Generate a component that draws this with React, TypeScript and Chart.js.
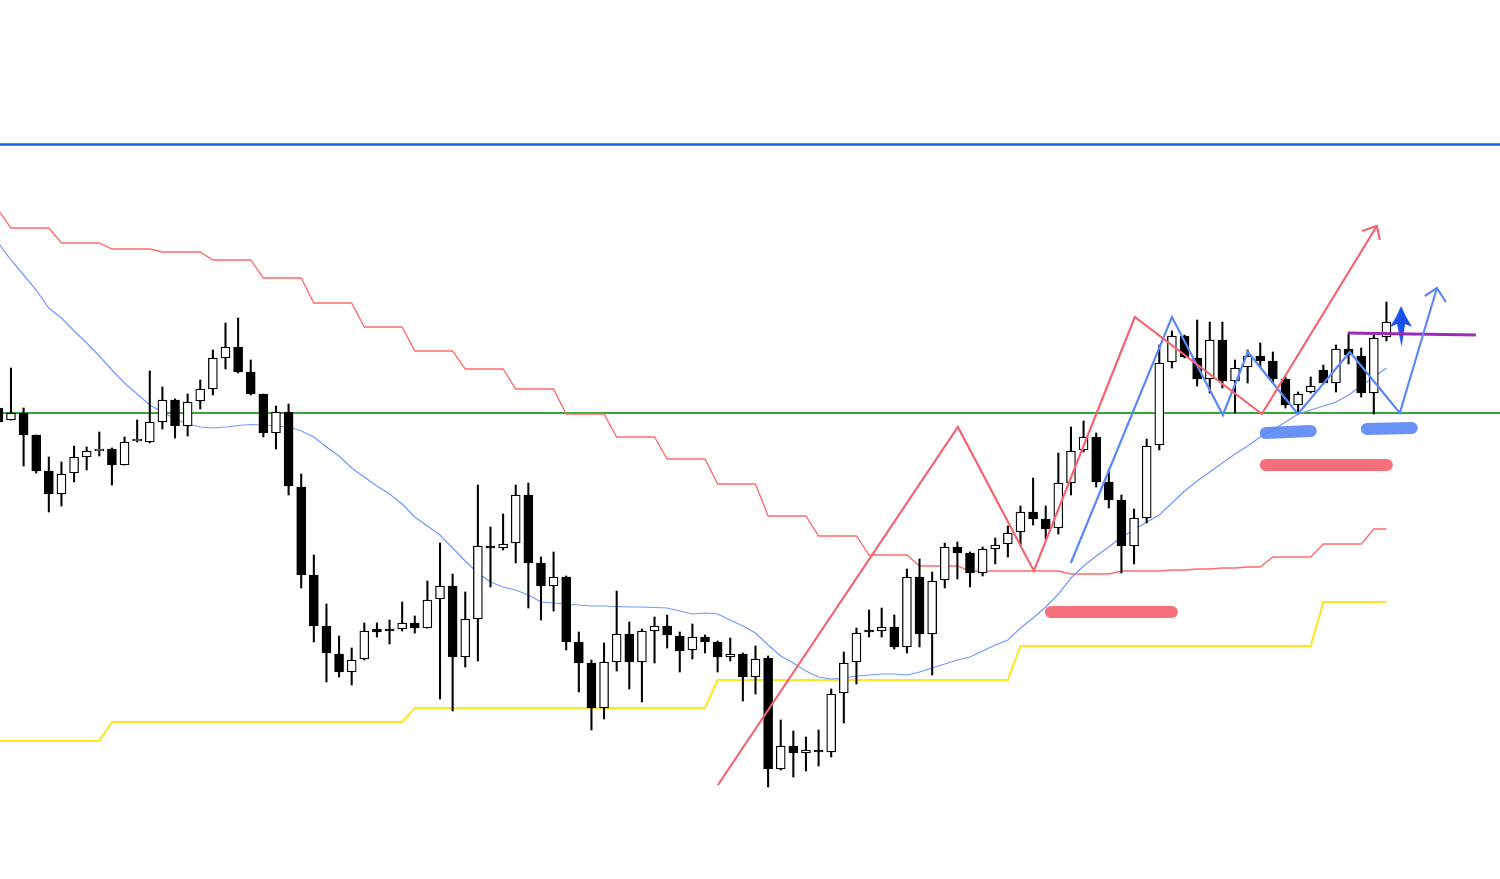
import React, { useEffect, useRef } from "react";
import { Chart, registerables } from "chart.js";

Chart.register(...registerables);

// ---- candle data (price units) ----
const openP = [
  492, 480, 487, 465, 429, 406, 427, 443, 449, 451,
  435, 459, 458, 478, 500, 474, 499, 511, 542, 553,
  528, 506, 467, 488, 413, 325, 274, 246, 228, 241,
  271, 271, 271, 277, 272, 301, 314, 243, 281, 354,
  352, 357, 405, 337, 314, 323, 258, 237, 192, 238,
  266, 238, 269, 274, 264, 250, 263, 258, 243, 246,
  223, 242, 131, 154, 147, 150, 148, 207, 238, 270,
  269, 273, 253, 323, 266, 320, 353, 347, 327, 351,
  356, 368, 388, 381, 372, 417, 450, 463, 418, 400,
  354, 382, 455, 538, 564, 542, 521, 560, 519, 533,
  544, 539, 521, 495, 508, 530, 517, 551, 544, 507,
  563,
];
const closeP = [
  478, 487, 465, 429, 406, 426, 443, 449, 451, 435,
  458, 461, 478, 500, 474, 498, 511, 542, 553, 528,
  506, 467, 488, 414, 325, 274, 247, 228, 240, 269,
  268, 269, 277, 272, 300, 314, 243, 281, 354, 352,
  356, 405, 337, 314, 323, 258, 237, 192, 238, 266,
  238, 269, 274, 265, 249, 263, 258, 243, 246, 223,
  241, 131, 154, 147, 150, 148, 206, 237, 267, 268,
  273, 253, 323, 266, 319, 353, 347, 327, 351, 355,
  367, 388, 381, 371, 417, 449, 463, 418, 400, 354,
  382, 454, 537, 564, 543, 521, 560, 519, 532, 544,
  539, 521, 495, 506, 514, 517, 551, 545, 507, 562,
  578,
];
const highP = [
  495, 532, 492, 465, 443, 438, 454, 453, 468, 452,
  463, 480, 529, 513, 501, 506, 520, 550, 577, 582,
  540, 506, 494, 496, 426, 345, 296, 264, 252, 277,
  277, 280, 298, 284, 319, 357, 326, 308, 415, 373,
  386, 415, 417, 343, 348, 324, 268, 240, 257, 309,
  278, 271, 283, 285, 268, 276, 265, 259, 262, 247,
  254, 244, 180, 169, 163, 170, 211, 248, 272, 290,
  292, 285, 331, 341, 328, 357, 358, 348, 353, 362,
  374, 394, 422, 394, 447, 473, 479, 467, 431, 405,
  391, 461, 555, 569, 565, 580, 578, 578, 540, 550,
  557, 548, 523, 508, 523, 535, 555, 566, 552, 565,
  598,
];
const lowP = [
  476, 480, 434, 427, 388, 394, 418, 430, 444, 415,
  435, 458, 457, 471, 462, 464, 491, 505, 531, 527,
  505, 463, 451, 405, 312, 258, 218, 223, 215, 240,
  263, 256, 269, 267, 272, 201, 189, 233, 239, 313,
  350, 337, 292, 280, 289, 250, 208, 170, 181, 229,
  211, 198, 237, 252, 228, 241, 247, 228, 239, 199,
  206, 113, 130, 123, 129, 134, 143, 177, 216, 263,
  263, 251, 247, 253, 225, 312, 321, 313, 324, 336,
  343, 355, 375, 361, 366, 405, 448, 413, 392, 327,
  336, 377, 450, 532, 542, 514, 507, 512, 487, 517,
  533, 517, 492, 487, 507, 516, 508, 536, 503, 486,
  559,
];

// ---- indicator lines, one value per candle ----
const baseLine = [
  690, 672, 672, 672, 672, 657, 657, 657, 657, 651,
  651, 651, 651, 648, 648, 648, 648, 640, 640, 640,
  640, 622, 622, 622, 622, 597, 597, 597, 597, 573,
  573, 573, 573, 549, 549, 549, 549, 531, 531, 531,
  531, 511, 511, 511, 511, 486, 486, 486, 486, 463,
  463, 463, 463, 441, 441, 441, 441, 416, 416, 416,
  416, 384, 384, 384, 384, 364, 364, 364, 364, 345,
  345, 345, 345, 334, 334, 334, 334, 329, 329, 329,
  329, 329, 329, 329, 329, 326, 326, 326, 326, 329,
  329, 329, 329, 330, 330, 331, 331, 332, 332, 333,
  333, 343, 343, 343, 343, 356, 356, 356, 356, 371,
  371,
];
const lowerBand = [
  159, 159, 159, 159, 159, 159, 159, 159, 159, 178,
  178, 178, 178, 178, 178, 178, 178, 178, 178, 178,
  178, 178, 178, 178, 178, 178, 178, 178, 178, 178,
  178, 178, 178, 192, 192, 192, 192, 192, 192, 192,
  192, 192, 192, 192, 192, 192, 192, 192, 192, 192,
  192, 192, 192, 192, 192, 192, 192, 220, 220, 220,
  220, 220, 220, 220, 220, 220, 220, 220, 220, 220,
  220, 220, 220, 220, 220, 220, 220, 220, 220, 220,
  220, 254, 254, 254, 254, 254, 254, 254, 254, 254,
  254, 254, 254, 254, 254, 254, 254, 254, 254, 254,
  254, 254, 254, 254, 254, 298, 298, 298, 298, 298,
  298,
];
const movingAvg = [
  657, 640, 625, 610, 592, 582, 569, 557, 544, 530,
  517, 506, 495, 488, 481, 476, 473, 472, 473, 474.5,
  475.5, 475, 474, 473, 469, 463, 453, 444, 432, 423,
  414, 406, 396, 383, 374, 365, 352, 339, 327, 318,
  313, 310, 305, 298, 297, 296, 295, 294, 294, 293.5,
  293, 293, 292.5, 292, 289, 286, 287, 286, 280, 274,
  267, 255, 244, 237, 229, 223, 221, 222, 224, 225,
  226, 226, 225, 228, 232, 236, 240, 243, 249, 255,
  260, 272, 282, 293, 306, 322, 334, 344, 353, 363,
  370, 378, 385, 397, 409, 419, 428, 437, 446, 454,
  463, 470, 478, 486, 490, 494, 498, 505, 514, 523,
  532,
];

// ---- horizontal levels ----
const upperLevel = 755.5;
const supportLevel = 487;

// ---- drawn annotations (x = candle index, y = price) ----
const redWaveX = [57.02, 76.04, 82.06, 90.06, 100.13, 109.24];
const redWaveY = [115, 473, 329, 583, 486, 674];
const redHeadX = [108.05, 109.24, 109.48];
const redHeadY = [669, 674, 660];
const blueWaveX = [84.99, 93.0, 97.04, 99.02, 102.98, 107.1, 111.06, 114.0];
const blueWaveY = [337, 583, 485, 548, 486, 548, 487, 612];
const blueHeadX = [113.04, 114.0, 114.71];
const blueHeadY = [604, 612, 598];
const purpleX = [106.94, 117.09];
const purpleY = [567, 565];
const blueZone1X = [100.44, 104.0];
const blueZone1Y = [467, 469];
const blueZone2X = [108.45, 112.01];
const blueZone2Y = [471, 472];
const redZone1X = [100.44, 110.03];
const redZone1Y = [435, 435];
const redZone2X = [83.41, 93.0];
const redZone2Y = [288, 288];
const upArrowX = [111.2];
const upArrowY = [573];

const X_MIN = 0.13;
const X_MAX = 119.0;
const Y_MIN = 21;
const Y_MAX = 900;

const pts = (xs: number[], ys: number[]) => xs.map((x, i) => ({ x, y: ys[i] }));

function makeArrowImage(): HTMLCanvasElement {
  const c = document.createElement("canvas");
  c.width = 23;
  c.height = 42;
  const g = c.getContext("2d")!;
  g.fillStyle = "#1a50ec";
  g.beginPath();
  g.moveTo(11, 0);
  g.quadraticCurveTo(16, 12, 22, 21);
  g.lineTo(15, 18);
  g.lineTo(11.5, 41);
  g.lineTo(7, 18);
  g.lineTo(0, 21);
  g.quadraticCurveTo(6, 12, 11, 0);
  g.closePath();
  g.fill();
  return c;
}

export default function App() {
  const ref = useRef<HTMLCanvasElement | null>(null);

  useEffect(() => {
    document.body.style.margin = "0";
    const canvas = ref.current;
    if (!canvas) return;

    const idx = openP.map((_, i) => i);
    const line = (
      data: { x: number; y: number }[],
      color: string,
      width: number,
      order: number,
      cap: CanvasLineCap = "butt"
    ) => ({
      type: "line" as const,
      data,
      borderColor: color,
      backgroundColor: color,
      borderWidth: width,
      borderCapStyle: cap,
      borderJoinStyle: "miter" as const,
      pointRadius: 0,
      tension: 0,
      fill: false,
      clip: false,
      order,
    });

    const chart = new Chart(canvas, {
      type: "bar",
      data: {
        datasets: [
          // annotations (top)
          line(pts(redZone2X, redZone2Y), "rgba(244,100,112,0.92)", 12, 0, "round"),
          line(pts(redZone1X, redZone1Y), "rgba(244,100,112,0.92)", 12, 0, "round"),
          line(pts(blueZone1X, blueZone1Y), "rgba(88,134,245,0.9)", 12, 0, "round"),
          line(pts(blueZone2X, blueZone2Y), "rgba(88,134,245,0.9)", 12, 0, "round"),
          line(pts(redWaveX, redWaveY), "#f4646f", 2.2, 0),
          line(pts(redHeadX, redHeadY), "#f4646f", 2.2, 0),
          line(pts(blueWaveX, blueWaveY), "#5b88f5", 2.2, 0),
          line(pts(blueHeadX, blueHeadY), "#5b88f5", 2.2, 0),
          line(pts(purpleX, purpleY), "#9b2cb4", 3, 0),
          {
            type: "scatter" as const,
            data: pts(upArrowX, upArrowY),
            pointStyle: makeArrowImage(),
            pointRadius: 12,
            clip: false,
            order: 0,
          },
          // candle bodies
          {
            type: "bar" as const,
            data: idx.map((i) => ({ x: i, y: [openP[i], closeP[i]] })),
            backgroundColor: idx.map((i) => (closeP[i] >= openP[i] ? "#ffffff" : "#000000")),
            borderColor: "#000000",
            borderWidth: 1.3,
            borderSkipped: false,
            barThickness: 9,
            grouped: false,
            order: 1,
          },
          // wicks
          {
            type: "bar" as const,
            data: idx.map((i) => ({ x: i, y: [lowP[i], highP[i]] })),
            backgroundColor: "#000000",
            borderWidth: 0,
            barThickness: 1.4,
            grouped: false,
            order: 2,
          },
          // indicators
          line(idx.map((i) => ({ x: i, y: movingAvg[i] })), "#7098ff", 1.2, 3),
          line(idx.map((i) => ({ x: i, y: baseLine[i] })), "#ff6a6a", 1.3, 3),
          line(idx.map((i) => ({ x: i, y: lowerBand[i] })), "#ffe51e", 2, 3),
          // horizontal levels
          line(pts([X_MIN, X_MAX], [supportLevel, supportLevel]), "#3aa53a", 2, 4),
          line(pts([X_MIN, X_MAX], [upperLevel, upperLevel]), "#1e5cf5", 2.6, 4),
        ] as any,
      },
      options: {
        animation: false,
        responsive: false,
        maintainAspectRatio: false,
        devicePixelRatio: 1,
        events: [],
        layout: { padding: 0, autoPadding: false },
        plugins: { legend: { display: false }, tooltip: { enabled: false } },
        scales: {
          x: { type: "linear", min: X_MIN, max: X_MAX, display: false, offset: false },
          y: { type: "linear", min: Y_MIN, max: Y_MAX, display: false },
        },
      },
    } as any);
    return () => chart.destroy();
  }, []);

  return (
    <div style={{ width: 1500, height: 879, background: "#ffffff" }}>
      <canvas ref={ref} width={1500} height={879} style={{ display: "block", width: 1500, height: 879 }} />
    </div>
  );
}
